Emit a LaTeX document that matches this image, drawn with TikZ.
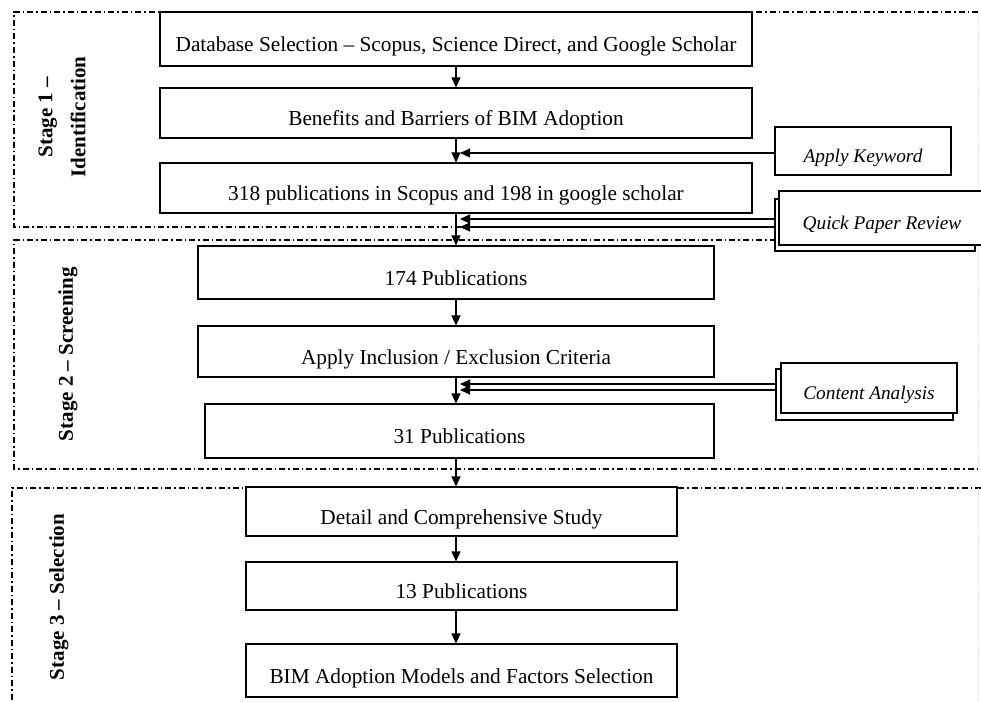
\documentclass[tikz,border=0pt]{standalone}
\usepackage{fontspec}
\setmainfont{Liberation Serif}
\usetikzlibrary{positioning, arrows.meta, calc}

\begin{document}
\begin{tikzpicture}[x=1pt, y=-1pt,
  flowbox/.style={rectangle, draw=black, line width=1.1pt, fill=white,
                  inner sep=0pt, text height=25pt, text depth=0pt,
                  font=\fontsize{21.3}{25}\selectfont},
  sidebox/.style={rectangle, draw=black, line width=1.1pt, fill=white,
                  inner sep=0pt, text height=22pt, text depth=0pt,
                  font=\fontsize{19.3}{23}\selectfont\itshape},
  stagelbl/.style={rotate=90, align=center,
                   font=\fontsize{21}{33}\selectfont\bfseries},
  stageframe/.style={line width=1.1pt,
                     dash pattern=on 6pt off 3pt on 1.5pt off 3pt},
  faintedge/.style={line width=0.8pt, draw=black!15, dotted},
  arr/.style={-{Triangle[length=10pt, width=9pt]}, line width=1.1pt}
]
\useasboundingbox (0,0) rectangle (981,701);

% === Stage frames ============================================================
\draw[stageframe] (978,12) -- (14,12) -- (14,227) -- (978,227);
\draw[faintedge]  (978,12) -- (978,227);
\draw[stageframe] (978,240) -- (14,240) -- (14,469) -- (978,469);
\draw[faintedge]  (978,240) -- (978,469);
\draw[stageframe] (981,488) -- (12,488) -- (12,701);
\draw[faintedge]  (978,488) -- (978,701);

\node[stagelbl] (S1) at (62,117) {Stage 1 --\\Identification};
\node[stagelbl] (S2) at (68,354) {Stage 2 -- Screening};
\node[stagelbl] (S3) at (59,597) {Stage 3 -- Selection};

% === Stage 1 =================================================================
\node[flowbox, minimum width=592, minimum height=54] (B1) at (456,39)
  {Database Selection -- Scopus, Science Direct, and Google Scholar};
\node[flowbox, minimum width=592, minimum height=50] (B2) at (456,113)
  {Benefits and Barriers of BIM Adoption};
\node[flowbox, minimum width=592, minimum height=50] (B3) at (456,188)
  {318 publications in Scopus and 198 in google scholar};

\node[sidebox, minimum width=176, minimum height=48] (KW)  at (863,151) {Apply Keyword};
\node[sidebox, minimum width=200, minimum height=52] (QRb) at (875,225) {};
\node[sidebox, minimum width=206, minimum height=54] (QR)  at (882,218)
  {Quick Paper Review\hspace{12pt}};

% === Stage 2 =================================================================
\node[flowbox, minimum width=516, minimum height=53] (B4) at (456,272.5) {174 Publications};
\node[flowbox, minimum width=516, minimum height=51] (B5) at (456,351.5)
  {Apply Inclusion / Exclusion Criteria};
\node[flowbox, minimum width=509, minimum height=54] (B6) at (459.5,431) {31 Publications};

\node[sidebox, minimum width=177, minimum height=51] (CAb) at (864.5,394.5) {};
\node[sidebox, minimum width=176, minimum height=50] (CA)  at (869,388) {Content Analysis};

% === Stage 3 =================================================================
\node[flowbox, minimum width=431, minimum height=49] (B7) at (461.5,511.5)
  {Detail and Comprehensive Study};
\node[flowbox, minimum width=431, minimum height=48] (B8) at (461.5,586) {13 Publications};
\node[flowbox, minimum width=431, minimum height=53] (B9) at (461.5,670.5)
  {BIM Adoption Models and Factors Selection};

% === Connectors ==============================================================
\coordinate (tip) at (460,0);

\draw[arr] (B1.south) -- (B2.north);
\draw[arr] (B2.south) -- (B3.north);
\draw[arr] (B3.south) -- (B4.north);
\draw[arr] (B4.south) -- (B5.north);
\draw[arr] (B5.south) -- (B5.south |- B6.north);
\draw[arr] (B5.south |- B6.south) -- (B5.south |- B7.north);
\draw[arr] (B7.south -| B5.south) -- (B8.north -| B5.south);
\draw[arr] (B8.south -| B5.south) -- (B9.north -| B5.south);

% side inputs
\draw[arr] ([yshift=-2pt]KW.west) -- ([yshift=-2pt]KW.west -| tip);
\draw[arr] ([yshift=6pt]QRb.west) -- ([yshift=6pt]QRb.west -| tip);
\draw[arr] ([yshift=-2pt]QRb.west) -- ([yshift=-2pt]QRb.west -| tip);
\draw[arr] ([yshift=10.5pt]CAb.west) -- ([yshift=10.5pt]CAb.west -| tip);
\draw[arr] ([yshift=4.5pt]CAb.west) -- ([yshift=4.5pt]CAb.west -| tip);

\end{tikzpicture}
\end{document}
